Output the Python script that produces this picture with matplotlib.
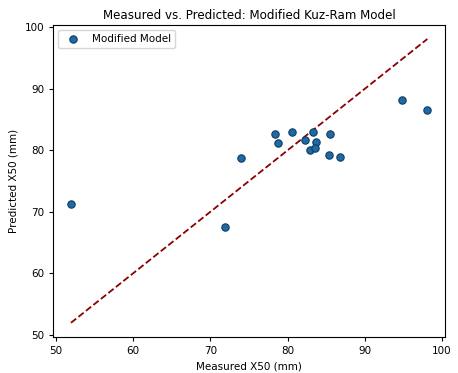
import matplotlib
matplotlib.use("Agg")
import matplotlib.pyplot as plt
import numpy as np

measured = [51.95, 71.87, 73.99, 78.40, 78.70, 80.57, 82.30, 83.25,
            83.69, 82.86, 83.49, 85.55, 85.35, 86.84, 94.86, 98.10]
predicted = [71.34, 67.52, 78.76, 82.67, 81.16, 83.00, 81.65, 82.95,
             81.27, 80.13, 80.39, 82.67, 79.17, 78.88, 88.16, 86.53]

fig = plt.figure(figsize=(4.58, 3.73), dpi=100)
ax = fig.add_axes([0.116, 0.0965, 0.856, 0.837])

ax.scatter(measured, predicted, s=28, color="#1f6aa5", edgecolors="#0d3b63",
           linewidths=0.8, label="Modified Model", zorder=3)

lo, hi = min(measured), max(measured)
ax.plot([lo, hi], [lo, hi], linestyle="--", color="darkred", linewidth=1.3)

ax.set_xticks([50, 60, 70, 80, 90, 100])
ax.set_yticks([50, 60, 70, 80, 90, 100])
ax.tick_params(labelsize=7.5, length=3)
ax.set_xlabel("Measured X50 (mm)", fontsize=7.5)
ax.set_ylabel("Predicted X50 (mm)", fontsize=7.5)
ax.set_title("Measured vs. Predicted: Modified Kuz-Ram Model", fontsize=8.6, pad=4)
ax.legend(loc="upper left", fontsize=7.5)

fig.savefig("out.png", dpi=100)
